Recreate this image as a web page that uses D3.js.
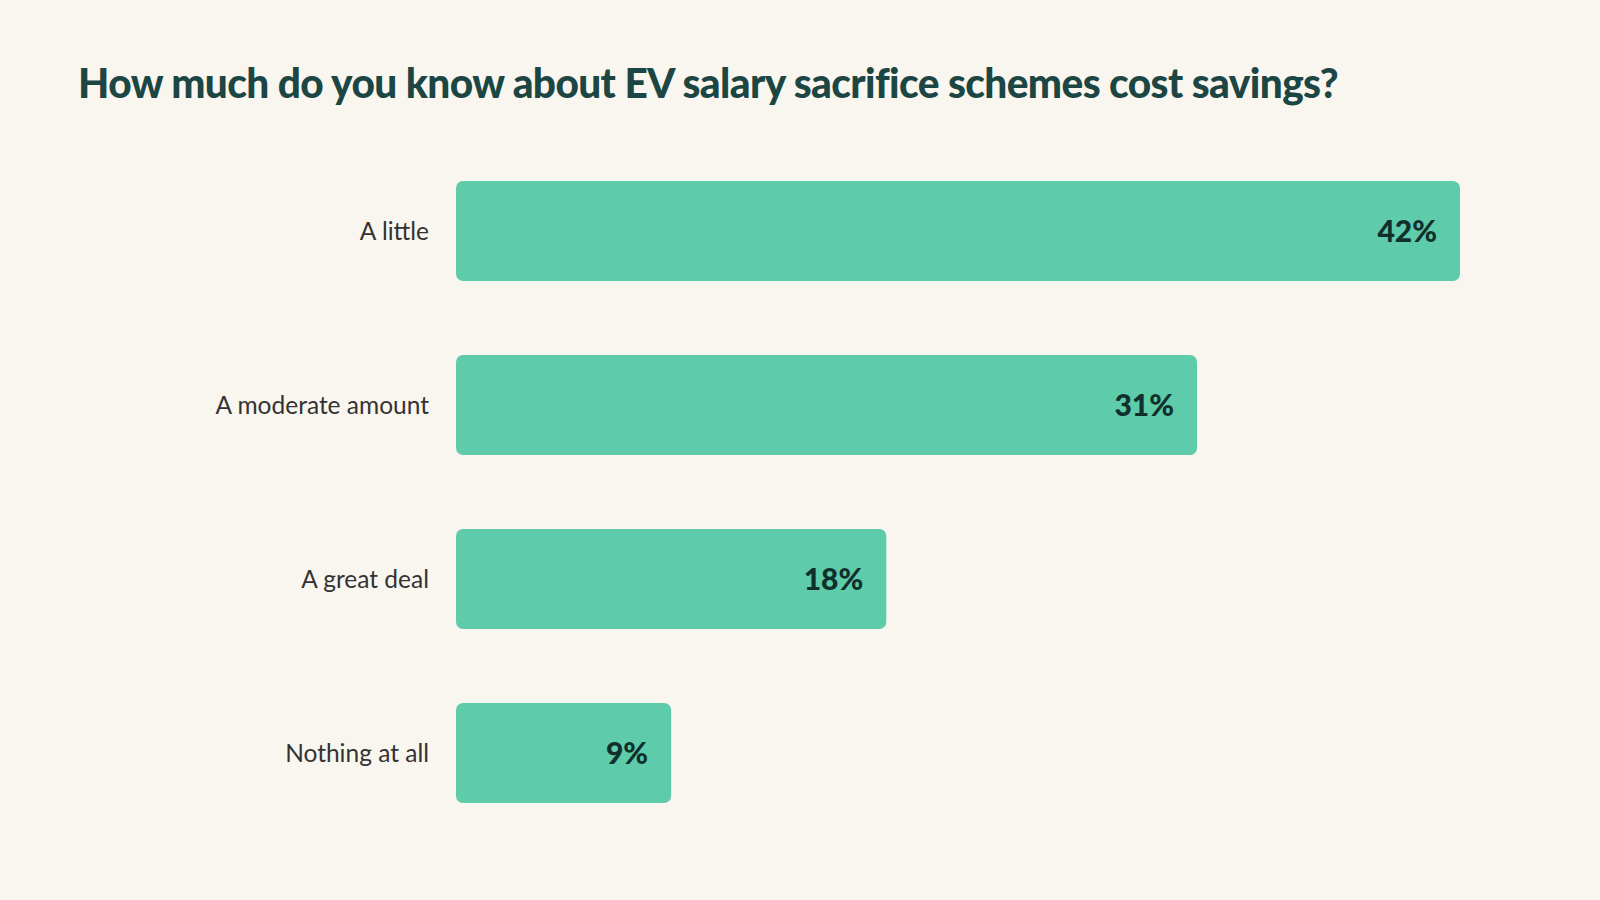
<!DOCTYPE html>
<html>
<head>
<meta charset="utf-8">
<script src="https://cdn.jsdelivr.net/npm/d3@7"></script>
<style>
  html, body { margin: 0; padding: 0; background: #f9f6ef; }
  svg { display: block; }
</style>
</head>
<body>
<div id="chart"></div>
<script>
// survey answers, top to bottom
const categories = ['A little', 'A moderate amount', 'A great deal', 'Nothing at all'];
const values     = [42, 31, 18, 9];
const title      = 'How much do you know about EV salary sacrifice schemes cost savings?';

const width  = 1600;
const height = 900;
const margin = { top: 181, left: 456 };

const svg = d3.select('#chart')
    .append('svg')
    .attr('width', width)
    .attr('height', height);

svg.append('rect')
    .attr('width', width)
    .attr('height', height)
    .attr('fill', '#f9f6ef');

// about 23.9px per percent
const x = d3.scaleLinear()
    .domain([0, 42])
    .range([margin.left, 1460]);

// step 174, bars 100 tall
const y = d3.scaleBand()
    .domain(categories)
    .range([margin.top, margin.top + 174 * 3 + 100])
    .paddingInner(0.425)
    .paddingOuter(0);

svg.append('text')
    .attr('x', 78)
    .attr('y', 98)
    .attr('fill', '#1c4643')
    .attr('textLength', 1260)
    .attr('lengthAdjust', 'spacingAndGlyphs')
    .style('font-family', 'Lato, sans-serif')
    .style('font-weight', 900)
    .style('font-size', '41px')
    .style('letter-spacing', '-0.6px')
    .text(title);

const rows = svg.append('g')
    .selectAll('g')
    .data(categories.map((c, i) => ({ name: c, value: values[i] })))
    .join('g');

rows.append('rect')
    .attr('x', x(0))
    .attr('y', (d) => y(d.name))
    .attr('width', (d) => x(d.value) - x(0))
    .attr('height', y.bandwidth())
    .attr('rx', 7)
    .attr('fill', '#5ecbab');

rows.append('text')
    .attr('x', 429)
    .attr('y', (d) => y(d.name) + y.bandwidth() / 2)
    .attr('dy', '0.35em')
    .attr('text-anchor', 'end')
    .attr('fill', '#333333')
    .style('font-family', 'Lato, sans-serif')
    .style('font-size', '24.5px')
    .text((d) => d.name);

rows.append('text')
    .attr('x', (d) => x(d.value) - 23)
    .attr('y', (d) => y(d.name) + y.bandwidth() / 2)
    .attr('dy', '0.36em')
    .attr('text-anchor', 'end')
    .attr('fill', '#10302b')
    .style('font-family', 'Lato, sans-serif')
    .style('font-weight', 900)
    .style('font-size', '30px')
    .text((d) => d.value + '%');
</script>
</body>
</html>
